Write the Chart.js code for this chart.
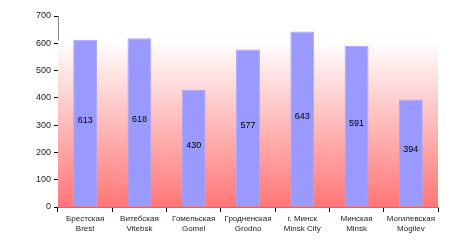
<!DOCTYPE html>
<html>
<head>
<meta charset="utf-8">
<script src="https://cdn.jsdelivr.net/npm/chart.js@4/dist/chart.umd.min.js"></script>
<style>
  html, body { margin: 0; padding: 0; background: #fff; }
</style>
</head>
<body>
<canvas id="chart" width="469" height="252"></canvas>
<script>
const regionsRu = ["Брестская", "Витебская", "Гомельская", "Гродненская", "г. Минск", "Минская", "Могилевская"];
const regionsEn = ["Brest", "Vitebsk", "Gomel", "Grodno", "Minsk City", "Minsk", "Mogilev"];
const values = [613, 618, 430, 577, 643, 591, 394];
const yTicks = [0, 100, 200, 300, 400, 500, 600, 700];

const font = "'Liberation Sans', Arial, sans-serif";

// pink gradient behind the bars
const backdrop = {
  id: "backdrop",
  beforeDatasetsDraw(chart) {
    const { ctx, chartArea: a, scales: { y } } = chart;
    const top = y.getPixelForValue(610);
    const g = ctx.createLinearGradient(0, top, 0, a.bottom);
    g.addColorStop(0, "rgba(255,255,255,1)");
    g.addColorStop(1, "#ff7676");
    ctx.save();
    ctx.fillStyle = g;
    ctx.fillRect(a.left, top, a.right - a.left, a.bottom - top);
    ctx.restore();
  }
};

// value labels in the middle of each bar
const barLabels = {
  id: "barLabels",
  afterDatasetsDraw(chart) {
    const { ctx } = chart;
    const meta = chart.getDatasetMeta(0);
    ctx.save();
    ctx.font = "9px " + font;
    ctx.fillStyle = "#000";
    ctx.textAlign = "center";
    ctx.textBaseline = "middle";
    meta.data.forEach((bar, i) => {
      ctx.fillText(String(values[i]), bar.x, (bar.y + bar.base) / 2 - 3);
    });
    ctx.restore();
  }
};

new Chart(document.getElementById("chart"), {
  type: "bar",
  data: {
    labels: regionsRu.map((r, i) => [r, regionsEn[i]]),
    datasets: [{
      data: values,
      backgroundColor: "#9999ff",
      borderColor: "#a8a8ff",
      borderWidth: 1,
      categoryPercentage: 1,
      barPercentage: 0.44
    }]
  },
  options: {
    responsive: false,
    animation: false,
    layout: { padding: { top: 16, right: 31, left: 0, bottom: 0 } },
    plugins: { legend: { display: false }, tooltip: { enabled: false } },
    scales: {
      x: {
        grid: { drawOnChartArea: false, color: "#000", tickLength: 5, tickColor: "#000" },
        border: { color: "#888", width: 1 },
        ticks: { color: "#222", font: { family: font, size: 8 }, padding: 2, maxRotation: 0, autoSkip: false },
        afterFit(s) { s.height = 45; }
      },
      y: {
        min: 0,
        max: 700,
        afterBuildTicks(s) { s.ticks = yTicks.map(v => ({ value: v })); },
        grid: { drawOnChartArea: false, color: "#000", tickLength: 4 },
        border: { color: "#888", width: 1 },
        ticks: { color: "#222", font: { family: font, size: 9 }, padding: 3 },
        afterFit(s) { s.width = 58; }
      }
    }
  },
  plugins: [backdrop, barLabels]
});
</script>
</body>
</html>
